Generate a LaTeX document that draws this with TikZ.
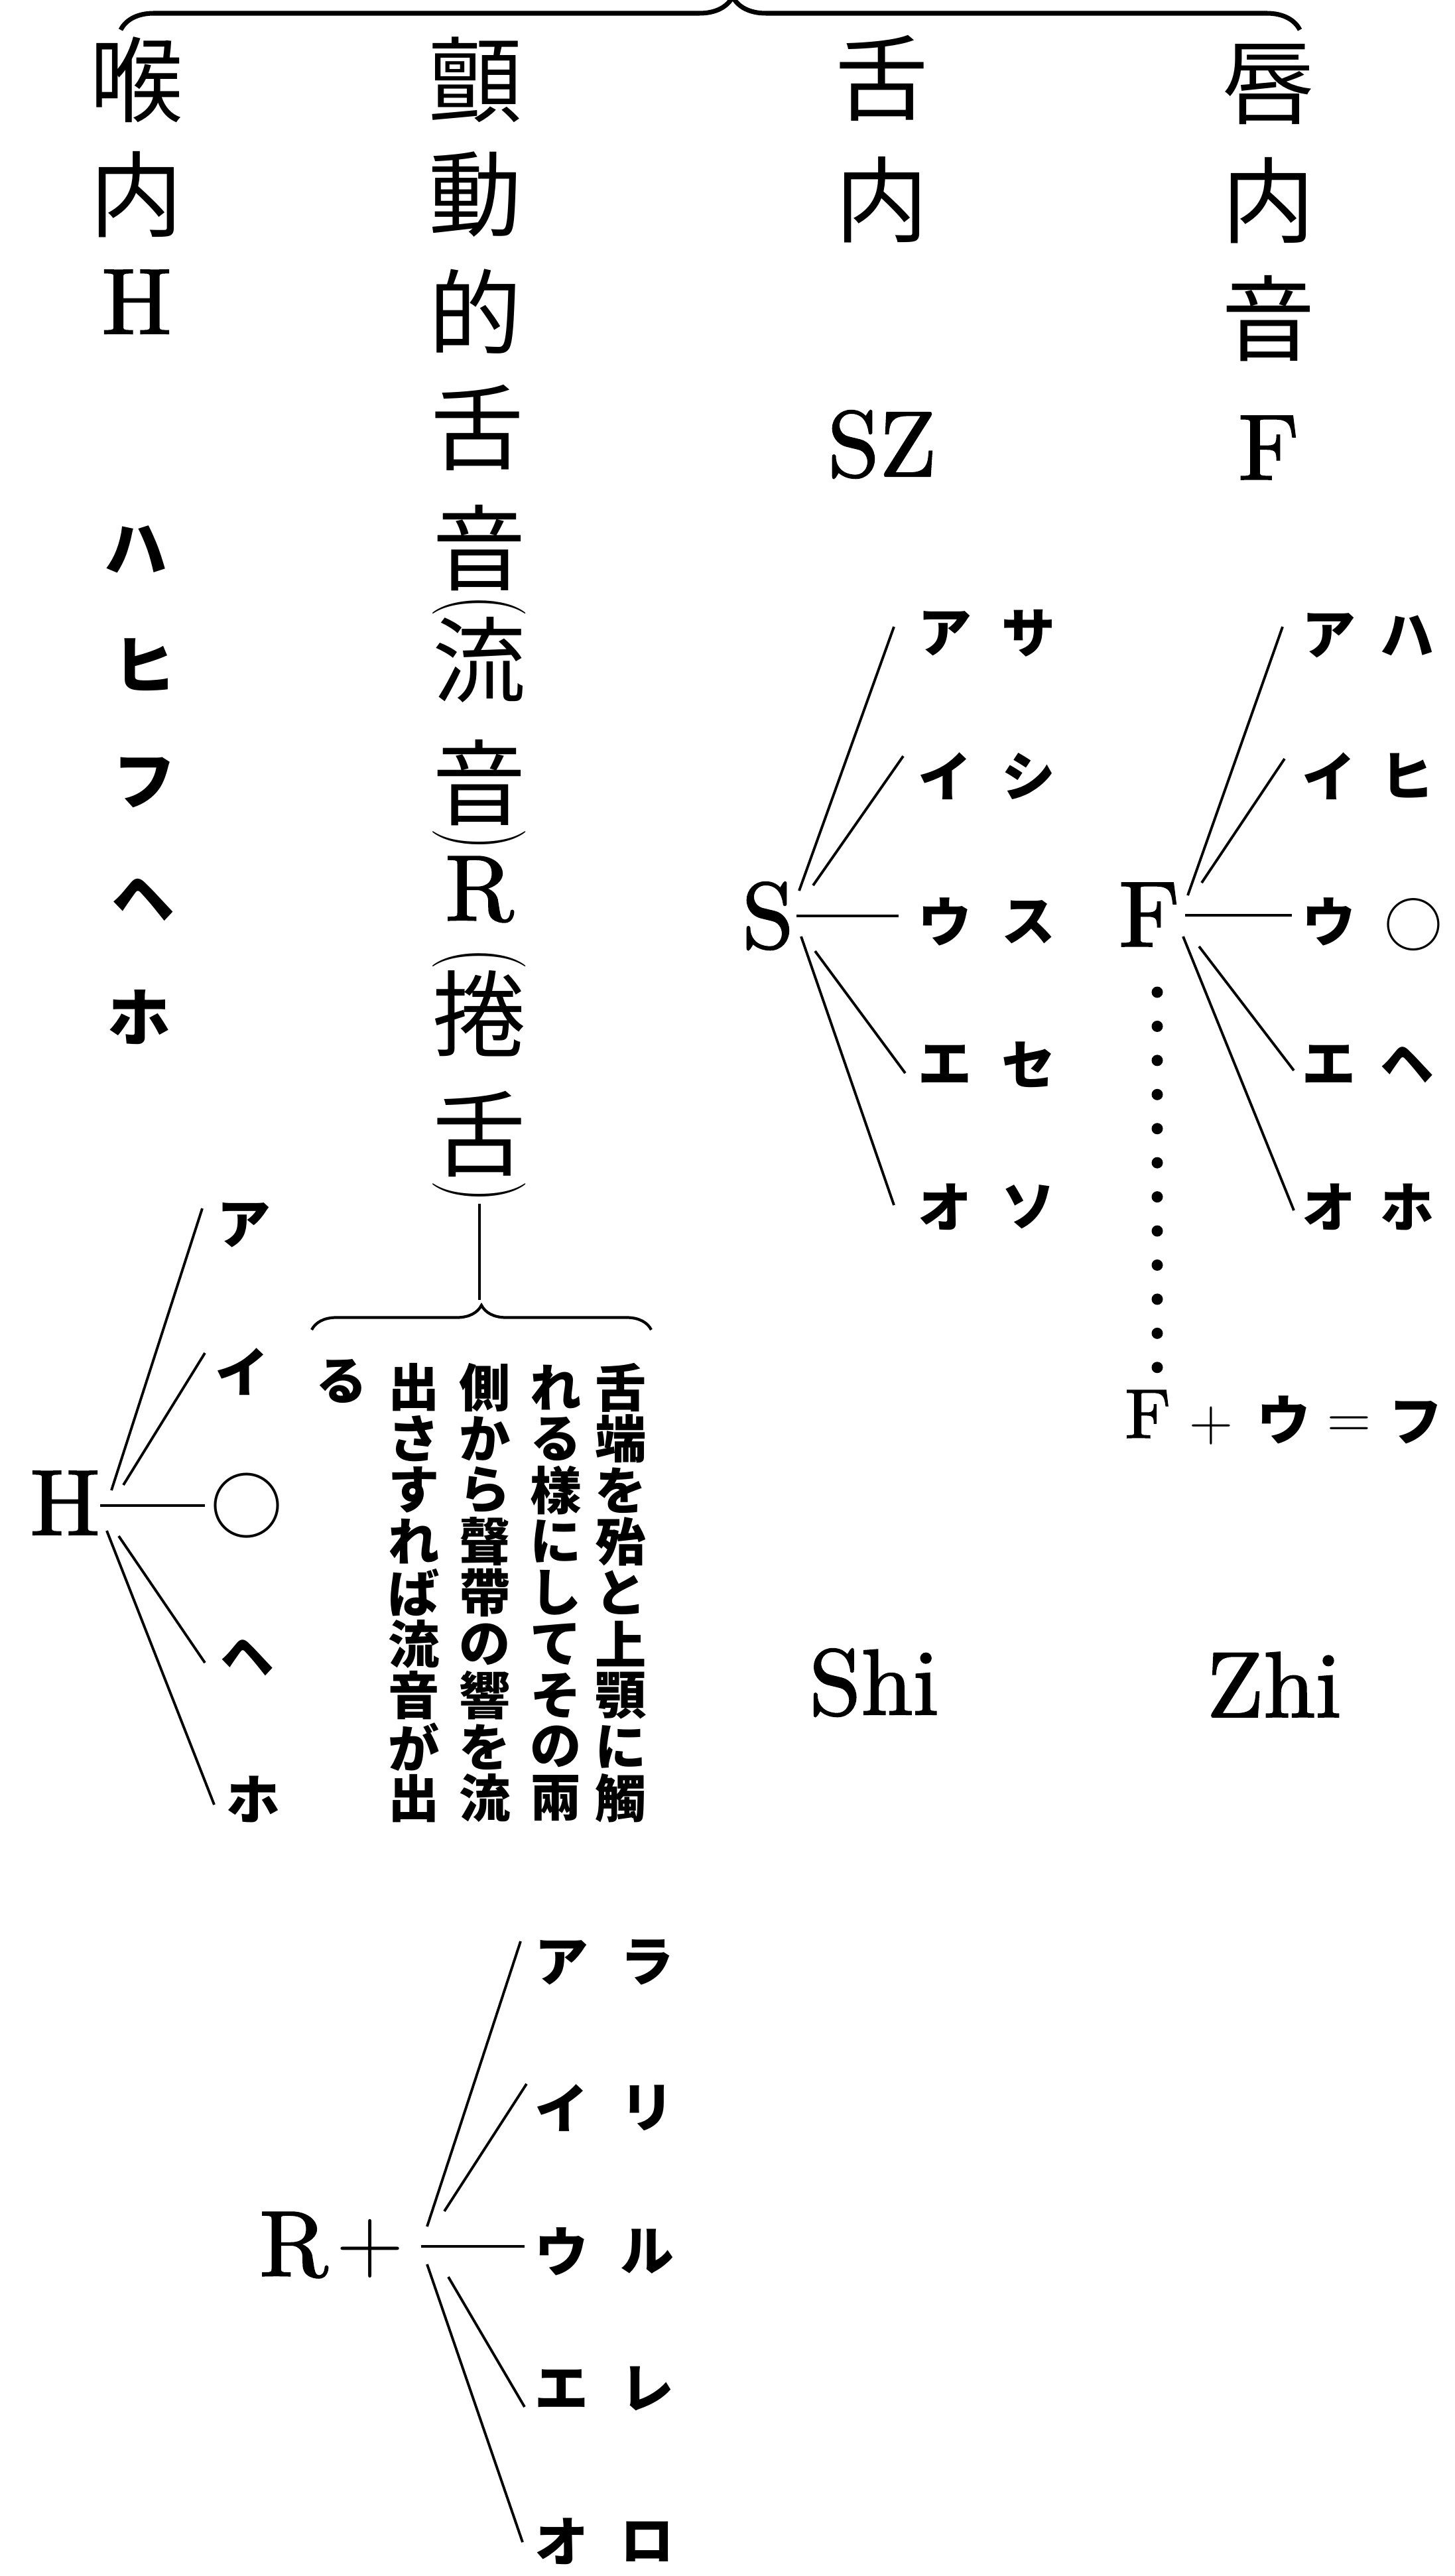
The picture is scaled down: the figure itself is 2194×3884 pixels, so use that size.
\documentclass[tikz,border=0pt]{standalone}
\usepackage{fontspec}
\newfontfamily\cjk{Noto Sans CJK JP}
\newfontfamily\latb{lmroman10-regular.otf}[FakeBold=1.6]
\usetikzlibrary{decorations.pathreplacing}
\begin{document}
\begin{tikzpicture}[x=0.01cm,y=-0.01cm,
  big/.style={font=\cjk\fontsize{40}{40}\selectfont, inner sep=0pt},
  lat/.style={font=\latb\fontsize{40}{40}\selectfont, inner sep=0pt},
  latsm/.style={font=\latb\fontsize{30}{30}\selectfont, inner sep=0pt},
  paren/.style={font=\fontsize{40}{40}\selectfont, inner sep=0pt, rotate=-90, xscale=0.65},
  kana/.style={font=\cjk\bfseries\fontsize{23}{23}\selectfont, inner sep=0pt},
  hkana/.style={font=\cjk\bfseries\fontsize{27}{27}\selectfont, inner sep=0pt},
  bigcirc/.style={font=\cjk\fontsize{31}{31}\selectfont, inner sep=0pt},
  midcirc/.style={font=\cjk\fontsize{25}{25}\selectfont, inner sep=0pt},
  note/.style={font=\cjk\bfseries\fontsize{22}{22}\selectfont, inner sep=0pt},
  fan/.style={line width=1.1pt},
  bracetop/.style={line width=2pt, decorate, decoration={brace, amplitude=0.5cm, aspect=0.519}},
  bracelow/.style={line width=1.2pt, decorate, decoration={brace, amplitude=0.37cm}},
  dotline/.style={line width=0.17cm, line cap=round, dash pattern=on 0pt off 0.514cm},
]
\useasboundingbox (0,0) rectangle (2194,3884);

% ---- top brace
\coordinate (tb1) at (182,45);
\coordinate (tb2) at (1960,45);
\draw[bracetop] (tb1) -- (tb2);

% ---- column 1
\node[big] (c1a) at (206,120) {喉};
\node[big] (c1b) at (206,293) {内};
\node[lat] (c1c) at (206,455) {H};
\node[hkana] (h1) at (205,828) {ハ};
\node[hkana] (h2) at (218,1002) {ヒ};
\node[hkana] (h3) at (218,1180) {フ};
\node[hkana] (h4) at (216,1356) {ヘ};
\node[hkana] (h5) at (210,1534) {ホ};

% ---- column 2
\node[big] (c2a) at (717,120) {顫};
\node[big] (c2b) at (717,293) {動};
\node[big] (c2c) at (717,470) {的};
\node[big] (c2d) at (720,645) {舌};
\node[big] (c2e) at (723,826) {音};
\node[paren] (c2p1) at (723,914) {(};
\node[big] (c2f) at (723,995) {流};
\node[big] (c2g) at (723,1180) {音};
\node[paren] (c2p2) at (723,1266) {)};
\node[lat] (c2h) at (723,1341) {R};
\node[paren] (c2p3) at (723,1446) {(};
\node[big] (c2i) at (723,1528) {捲};
\node[big] (c2j) at (723,1710) {舌};
\node[paren] (c2p4) at (723,1797) {)};

% stem and lower brace
\coordinate (stem1) at (723,1815);
\coordinate (stem2) at (723,1960);
\draw[line width=1.2pt] (stem1) -- (stem2);
\coordinate (lb1) at (470,2005);
\coordinate (lb2) at (982,2005);
\draw[bracelow] (lb1) -- (lb2);

% note text (vertical, right to left)
\foreach \ch [count=\i from 0] in {舌,端,を,殆,と,上,顎,に,觸}
  \node[note] (na\i) at (936,2092+77.4*\i) {\ch};
\foreach \ch [count=\i from 0] in {れ,る,樣,に,し,て,そ,の,兩}
  \node[note] (nb\i) at (838,2092+77.4*\i) {\ch};
\foreach \ch [count=\i from 0] in {側,か,ら,聲,帶,の,響,を,流}
  \node[note] (nc\i) at (731,2092+77.4*\i) {\ch};
\foreach \ch [count=\i from 0] in {出,さ,す,れ,ば,流,音,が,出}
  \node[note] (nd\i) at (624,2092+77.4*\i) {\ch};
\node[note] (ne0) at (515,2082) {る};

% ---- column 3
\node[big] (c3a) at (1330,118) {舌};
\node[big] (c3b) at (1330,301) {内};
\node[lat] (c3c) at (1330,670) {SZ};

% ---- column 4
\node[big] (c4a) at (1913,127) {唇};
\node[big] (c4b) at (1913,302) {内};
\node[big] (c4c) at (1913,480) {音};
\node[lat] (c4d) at (1913,675) {F};

% ---- S fan
\node[lat] (S) at (1158,1381) {S};
\node[kana] (s1a) at (1425,955) {ア};  \node[kana] (s1b) at (1551,955) {サ};
\node[kana] (s2a) at (1425,1170) {イ}; \node[kana] (s2b) at (1551,1170) {シ};
\node[kana] (s3a) at (1425,1390) {ウ}; \node[kana] (s3b) at (1551,1390) {ス};
\node[kana] (s4a) at (1425,1605) {エ}; \node[kana] (s4b) at (1551,1605) {セ};
\node[kana] (s5a) at (1425,1820) {オ}; \node[kana] (s5b) at (1551,1820) {ソ};
\coordinate (sA0) at (1205,1343); \coordinate (sA1) at (1348,945);
\coordinate (sI0) at (1226,1335); \coordinate (sI1) at (1362,1140);
\coordinate (sU0) at (1201,1381); \coordinate (sU1) at (1355,1381);
\coordinate (sE0) at (1229,1434); \coordinate (sE1) at (1365,1618);
\coordinate (sO0) at (1208,1412); \coordinate (sO1) at (1348,1817);
\draw[fan] (sA0) -- (sA1);
\draw[fan] (sI0) -- (sI1);
\draw[fan] (sU0) -- (sU1);
\draw[fan] (sE0) -- (sE1);
\draw[fan] (sO0) -- (sO1);

% ---- F fan
\node[lat] (F) at (1733,1379) {F};
\node[kana] (f1a) at (2004,958) {ア};  \node[kana] (f1b) at (2122,958) {ハ};
\node[kana] (f2a) at (2004,1170) {イ}; \node[kana] (f2b) at (2122,1170) {ヒ};
\node[kana] (f3a) at (2004,1390) {ウ}; \node[midcirc] (f3b) at (2131,1394) {○};
\node[kana] (f4a) at (2004,1605) {エ}; \node[kana] (f4b) at (2122,1605) {ヘ};
\node[kana] (f5a) at (2004,1820) {オ}; \node[kana] (f5b) at (2122,1820) {ホ};
\coordinate (fA0) at (1791,1350); \coordinate (fA1) at (1934,945);
\coordinate (fI0) at (1812,1331); \coordinate (fI1) at (1937,1144);
\coordinate (fU0) at (1787,1380); \coordinate (fU1) at (1948,1380);
\coordinate (fE0) at (1808,1427); \coordinate (fE1) at (1951,1614);
\coordinate (fO0) at (1784,1412); \coordinate (fO1) at (1951,1825);
\draw[fan] (fA0) -- (fA1);
\draw[fan] (fI0) -- (fI1);
\draw[fan] (fU0) -- (fU1);
\draw[fan] (fE0) -- (fE1);
\draw[fan] (fO0) -- (fO1);

% dotted connector F ... F+
\coordinate (fd0) at (1745,1496);
\coordinate (fd1) at (1745,2066);
\draw[dotline] (fd0) -- (fd1);

\node[latsm] (fp1) at (1731,2132) {F};
\node[font=\fontsize{26}{26}\selectfont, inner sep=0pt] (fp2) at (1826,2150) {+};
\node[kana] (fp3) at (1936,2141) {ウ};
\node[font=\fontsize{26}{26}\selectfont, inner sep=0pt] (fp4) at (2034,2152) {=};
\node[kana] (fp5) at (2135,2145) {フ};

\node[lat] (shi) at (1318,2537) {Shi};
\node[lat] (zhi) at (1921,2540) {Zhi};

% ---- H fan
\node[lat] (H) at (98,2266) {H};
\node[kana] (ha) at (368,1847) {ア};
\node[kana] (hi) at (365,2068) {イ};
\node[bigcirc] (hu) at (372,2270) {○};
\node[kana] (he) at (373,2499) {ヘ};
\node[kana] (ho) at (382,2713) {ホ};
\coordinate (hA0) at (168,2247); \coordinate (hA1) at (305,1822);
\coordinate (hI0) at (186,2239); \coordinate (hI1) at (309,2040);
\coordinate (hU0) at (151,2270); \coordinate (hU1) at (309,2270);
\coordinate (hE0) at (179,2316); \coordinate (hE1) at (309,2507);
\coordinate (hO0) at (161,2308); \coordinate (hO1) at (323,2721);
\draw[fan] (hA0) -- (hA1);
\draw[fan] (hI0) -- (hI1);
\draw[fan] (hU0) -- (hU1);
\draw[fan] (hE0) -- (hE1);
\draw[fan] (hO0) -- (hO1);

% ---- R fan
\node[lat] (R) at (443,3385) {R};
\node[font=\fontsize{40}{40}\selectfont, inner sep=0pt] (Rp) at (558,3390) {+};
\node[kana] (r1a) at (847,2959) {ア}; \node[kana] (r1b) at (976,2959) {ラ};
\node[kana] (r2a) at (847,3178) {イ}; \node[kana] (r2b) at (976,3178) {リ};
\node[kana] (r3a) at (847,3395) {ウ}; \node[kana] (r3b) at (976,3395) {ル};
\node[kana] (r4a) at (847,3602) {エ}; \node[kana] (r4b) at (976,3602) {レ};
\node[kana] (r5a) at (847,3832) {オ}; \node[kana] (r5b) at (976,3832) {ロ};
\coordinate (rA0) at (644,3357); \coordinate (rA1) at (785,2927);
\coordinate (rI0) at (670,3334); \coordinate (rI1) at (794,3142);
\coordinate (rU0) at (635,3387); \coordinate (rU1) at (791,3387);
\coordinate (rE0) at (676,3433); \coordinate (rE1) at (791,3629);
\coordinate (rO0) at (644,3414); \coordinate (rO1) at (788,3833);
\draw[fan] (rA0) -- (rA1);
\draw[fan] (rI0) -- (rI1);
\draw[fan] (rU0) -- (rU1);
\draw[fan] (rE0) -- (rE1);
\draw[fan] (rO0) -- (rO1);
\end{tikzpicture}
\end{document}
